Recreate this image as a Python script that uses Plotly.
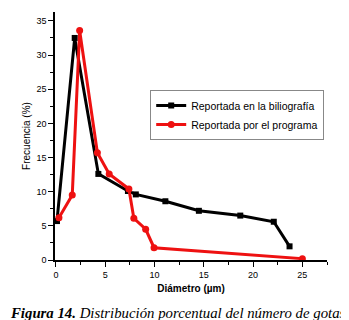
import plotly.graph_objects as go

bib_x = [0.1, 1.9, 4.3, 7.3, 8.1, 11.1, 14.5, 18.7, 22.1, 23.7]
bib_y = [5.7, 32.5, 12.6, 10.1, 9.6, 8.6, 7.2, 6.5, 5.6, 2.0]

prog_x = [0.3, 1.65, 2.4, 4.2, 5.4, 7.4, 7.9, 9.1, 9.95, 25.0]
prog_y = [6.2, 9.5, 33.6, 15.7, 12.6, 10.4, 6.1, 4.5, 1.8, 0.2]

x_ticks = [0, 5, 10, 15, 20, 25]
y_ticks = [0, 5, 10, 15, 20, 25, 30, 35]

fig = go.Figure()
fig.add_trace(go.Scatter(x=bib_x, y=bib_y, mode="lines+markers",
                         name="Reportada en la biliografía",
                         line=dict(color="black", width=3),
                         marker=dict(symbol="square", size=6, color="black")))
fig.add_trace(go.Scatter(x=prog_x, y=prog_y, mode="lines+markers",
                         name="Reportada por el programa",
                         line=dict(color="#ee1111", width=3),
                         marker=dict(symbol="circle", size=7, color="#ee1111")))

axis_font = dict(family="Liberation Sans, Arial", size=9, color="black")
# page body has an 8px margin, so the figure is 8px smaller and shifted
fig.update_layout(
    width=341, height=312,
    margin=dict(l=47, r=22, t=4, b=60),
    paper_bgcolor="white", plot_bgcolor="white",
    showlegend=True,
    legend=dict(x=0.35, y=0.685, xanchor="left", yanchor="top",
                bordercolor="#888888", borderwidth=1, bgcolor="white",
                font=dict(family="Liberation Sans, Arial", size=10.5, color="black"),
                tracegroupgap=0, itemwidth=30),
    xaxis=dict(range=[-0.1, 27.5], tickvals=x_ticks, showgrid=False, zeroline=False,
               showline=True, linecolor="black", linewidth=1.5,
               ticks="outside", ticklen=5, tickcolor="black", tickfont=axis_font,
               minor=dict(dtick=2.5, tick0=0, ticks="outside", ticklen=3, tickcolor="black", showgrid=False),
               title=dict(text="<b>Diámetro (µm)</b>", font=dict(family="Liberation Sans, Arial", size=10, color="black"), standoff=6)),
    yaxis=dict(range=[0, 36.3], tickvals=y_ticks, showgrid=False, zeroline=False,
               showline=True, linecolor="black", linewidth=1.5,
               ticks="outside", ticklen=5, tickcolor="black", tickfont=axis_font,
               minor=dict(dtick=2.5, tick0=0, ticks="outside", ticklen=3, tickcolor="black", showgrid=False),
               title=dict(text="Frecuencia (%)", font=dict(family="Liberation Sans, Arial", size=10, color="black"), standoff=4)),
)
fig.add_annotation(text="<b><i>Figura 14.</i></b><i> Distribución porcentual del número de gotas</i>",
                   xref="paper", yref="paper", x=0.454, y=-0.215, xanchor="center", yanchor="middle",
                   showarrow=False, font=dict(family="Liberation Serif, Times New Roman", size=14.8, color="black"))
fig.write_html("out.html")
